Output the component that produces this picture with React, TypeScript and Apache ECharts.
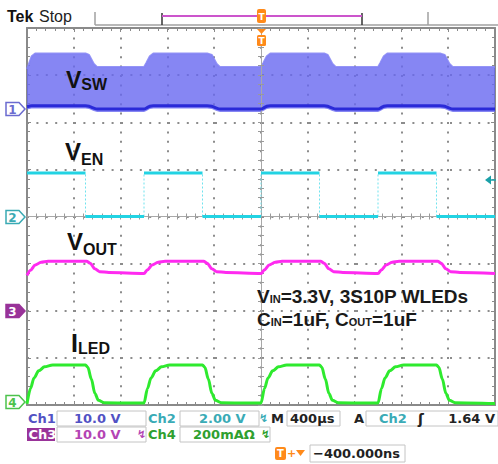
import React, { useEffect, useRef } from "react";
import * as echarts from "echarts";

const W = 498;
const H = 464;

// ---------- Time base (µs): 400 µs/div, 10 divisions, trigger at centre ----------
const timeMinUs = -2000;
const timeMaxUs = 2000;
const timePerDivUs = 400;
const divMin = -4;
const divMax = 4;

// ---------- Channel scales (units per div) and ground positions (div) ----------
const ch1Scale = 10; // V/div
const ch1Offset = 2.3;
const ch2Scale = 2; // V/div
const ch2Offset = 0;
const ch3Scale = 10; // V/div
const ch3Offset = -2;
const ch4Scale = 200; // mA/div
const ch4Offset = -4;

// ---------- Ch1: V_SW envelope (V) ----------
const vswTime = [
  -2000, -1960, -1930, -1500, -1470, -1430, -1400,
  -1000, -980, -950, -920, -460, -420, -380, -350,
  0, 20, 50, 80, 540, 570, 610, 640,
  1000, 1020, 1050, 1080, 1530, 1570, 1610, 1640,
  2000,
];
const vswUpper = [
  8.3, 11.0, 11.6, 11.6, 11.3, 9.4, 8.7,
  8.7, 9.6, 11.0, 11.6, 11.6, 11.3, 9.4, 8.7,
  8.7, 9.6, 11.0, 11.6, 11.6, 11.3, 9.4, 8.7,
  8.7, 9.6, 11.0, 11.6, 11.6, 11.3, 9.4, 8.7,
  8.7,
];
const vswBase = [
  0.3, 0.5, 0.5, 0.5, 0.4, 0.0, -0.2,
  -0.2, 0.0, 0.4, 0.5, 0.5, 0.4, 0.0, -0.2,
  -0.2, 0.0, 0.4, 0.5, 0.5, 0.4, 0.0, -0.2,
  -0.2, 0.0, 0.4, 0.5, 0.5, 0.4, 0.0, -0.2,
  -0.2,
];
const vswBandBelow = 0.6; // V of envelope below the dense bottom line

// ---------- Ch2: V_EN PWM (V) ----------
const enTimes = [-2000, -1500, -1000, -500, 0, 500, 1000, 1500, 2000];
const enStates = [1, 0, 1, 0, 1, 0, 1, 0];
const enHigh = 1.85;
const enLow = 0.0;

// ---------- Ch3: V_OUT (V) ----------
const voutTime = [
  -2000, -1970, -1930, -1880, -1820, -1490, -1460, -1420, -1380, -1300,
  -1000, -970, -930, -880, -820, -490, -460, -420, -380, -300,
  0, 30, 70, 120, 180, 510, 540, 580, 620, 700,
  1000, 1030, 1070, 1120, 1180, 1510, 1540, 1580, 1620, 1700,
  2000,
];
const voutValue = [
  7.5, 8.6, 9.7, 10.3, 10.5, 10.5, 10.1, 8.9, 8.3, 8.1,
  7.9, 8.7, 9.7, 10.3, 10.5, 10.5, 10.1, 8.9, 8.3, 8.1,
  7.9, 8.7, 9.7, 10.3, 10.5, 10.5, 10.1, 8.9, 8.3, 8.1,
  7.9, 8.7, 9.7, 10.3, 10.5, 10.5, 10.1, 8.9, 8.3, 8.1,
  7.9,
];

// ---------- Ch4: I_LED (mA) ----------
const iledTime = [
  -2000, -1970, -1940, -1900, -1850, -1780, -1500, -1480, -1450, -1420, -1390, -1340,
  -1000, -970, -940, -900, -850, -780, -500, -480, -450, -420, -390, -340,
  0, 30, 60, 100, 150, 220, 500, 520, 550, 580, 610, 660,
  1000, 1030, 1060, 1100, 1150, 1220, 1500, 1520, 1550, 1580, 1610, 1660,
  2000,
];
const iledValue = [
  5, 70, 115, 145, 162, 170, 170, 160, 110, 50, 20, 10,
  8, 70, 115, 145, 162, 170, 170, 160, 110, 50, 20, 10,
  8, 70, 115, 145, 162, 170, 170, 160, 110, 50, 20, 10,
  8, 70, 115, 145, 162, 170, 170, 160, 110, 50, 20, 10,
  6,
];

// ---------- Readout texts ----------
const ch1Label = "Ch1";
const ch1Text = "10.0 V";
const ch2Label = "Ch2";
const ch2Text = "2.00 V";
const ch3Label = "Ch3";
const ch3Text = "10.0 V";
const ch4Label = "Ch4";
const ch4Text = "200mAΩ";
const timeText = "400µs";
const trigSrc = "Ch2";
const trigLevel = "1.64 V";
const trigOffsetText = "−400.000ns";
const noteLine1 = ["V", "IN", "=3.3V, 3S10P WLEDs"];
const noteLine2 = ["C", "IN", "=1uF, C", "OUT", "=1uF"];

// ---------- helpers ----------
const toDiv = (v: number, scale: number, off: number) => v / scale + off;

const COL1 = "#5252c4";
const COL2 = "#3aabb6";
const COL3 = "#b444b4";
const COL4 = "#2fa02f";
const ORANGE = "#ff8a1a";

let measureCtx: CanvasRenderingContext2D | null = null;
function measure(text: string, font: string) {
  if (!measureCtx) measureCtx = document.createElement("canvas").getContext("2d");
  if (!measureCtx) return text.length * 8;
  measureCtx.font = font;
  return measureCtx.measureText(text).width;
}

function txt(x: number, y: number, text: string, font: string, fill: string, align = "left") {
  return {
    type: "text",
    x,
    y,
    z: 100,
    silent: true,
    style: {
      text,
      font,
      fill,
      align,
      verticalAlign: "middle",
      textAlign: align,
      textVerticalAlign: "middle",
    },
  };
}

// baseline-aligned run of text parts: [text, fontSize, weight, dy]
function run(x0: number, baseline: number, parts: [string, number, string, number][], fill: string, family: string) {
  let x = x0;
  const out: any[] = [];
  for (const [t, size, weight, dy] of parts) {
    const font = `${weight} ${size}px ${family}`;
    out.push(txt(x, baseline + dy - size * 0.35, t, font, fill));
    x += measure(t, font);
  }
  return out;
}

function box(x: number, y: number, w: number, h: number) {
  return {
    type: "rect",
    z: 90,
    silent: true,
    shape: { x, y, width: w, height: h },
    style: { fill: "#fff", stroke: "#c4c4c4", lineWidth: 1 },
  };
}

function line(x1: number, y1: number, x2: number, y2: number, stroke: string, lw = 1) {
  return { type: "line", z: 95, silent: true, shape: { x1, y1, x2, y2 }, style: { stroke, lineWidth: lw } };
}

function chMarker(yc: number, label: string, color: string, filled: boolean) {
  return [
    {
      type: "polygon",
      z: 100,
      silent: true,
      shape: { points: [[6, yc - 6.5], [19, yc - 6.5], [25, yc], [19, yc + 6.5], [6, yc + 6.5]] },
      style: { fill: filled ? color : "#fff", stroke: color, lineWidth: 1.5 },
    },
    txt(12.5, yc + 0.5, label, 'bold 12px "DejaVu Sans"', filled ? "#fff" : color, "center"),
  ];
}

export default function App() {
  const ref = useRef<HTMLDivElement>(null);

  useEffect(() => {
    document.body.style.margin = "0";
    if (!ref.current) return;
    const chart = echarts.init(ref.current, undefined, { renderer: "svg", width: W, height: H });

    const gridRect = { left: 27, top: 28, width: 468, height: 377 };

    const vswUpperDiv = vswTime.map((t, i) => [t, toDiv(vswUpper[i], ch1Scale, ch1Offset)]);
    const vswLowerDiv = vswTime.map((t, i) => [t, toDiv(vswBase[i] - vswBandBelow, ch1Scale, ch1Offset)]);
    const vswBaseDiv = vswTime.map((t, i) => [t, toDiv(vswBase[i], ch1Scale, ch1Offset)]);

    const enHighData: any[] = [];
    const enLowData: any[] = [];
    for (let i = 0; i < enStates.length; i++) {
      const target = enStates[i] ? enHighData : enLowData;
      const v = toDiv(enStates[i] ? enHigh : enLow, ch2Scale, ch2Offset);
      target.push([enTimes[i], v], [enTimes[i + 1], v], [enTimes[i + 1], "-"]);
    }
    const enEdgeData: any[] = [];
    for (let i = 1; i < enStates.length; i++) {
      enEdgeData.push(
        [enTimes[i], toDiv(enLow, ch2Scale, ch2Offset)],
        [enTimes[i], toDiv(enHigh, ch2Scale, ch2Offset)],
        [enTimes[i], "-"]
      );
    }
    const voutDiv = voutTime.map((t, i) => [t, toDiv(voutValue[i], ch3Scale, ch3Offset)]);
    const iledDiv = iledTime.map((t, i) => [t, toDiv(iledValue[i], ch4Scale, ch4Offset)]);

    const frameCol = "#8a8a8a";
    const frameAxis = (extra: any) => ({
      type: "value",
      axisLabel: { show: false },
      axisLine: { show: true, onZero: false, lineStyle: { color: frameCol, width: 2 } },
      axisTick: { show: true, inside: true, length: 4, lineStyle: { color: frameCol } },
      minorTick: { show: true, splitNumber: 5, length: 3, lineStyle: { color: frameCol } },
      splitLine: { show: false },
      ...extra,
    });
    const crossAxis = (extra: any, inside: boolean) => ({
      type: "value",
      z: 3,
      axisLabel: { show: false },
      axisLine: { show: true, onZero: true, lineStyle: { color: "#a8a8a8", width: 1 } },
      axisTick: { show: true, inside, length: 3, lineStyle: { color: "#9a9a9a" } },
      minorTick: { show: true, splitNumber: 5, length: 3, lineStyle: { color: "#9a9a9a" } },
      splitLine: { show: false },
      ...extra,
    });
    const dotted = { show: true, lineStyle: { color: "#8c8c8c", width: 2, type: [2, 7.4] } };

    const xr = { min: timeMinUs, max: timeMaxUs, interval: timePerDivUs };
    const yr = { min: divMin, max: divMax, interval: 1 };

    const RF = '"DejaVu Sans"';
    const F = `bold 13px ${RF}`;
    const SF = `bold 11px ${RF}`;
    const LF = '"Liberation Sans", Arial, sans-serif';

    const graphics: any[] = [
      // header
      txt(7, 16, "Tek", `bold 16px ${LF}`, "#111"),
      txt(39, 16, "Stop", `16px ${LF}`, "#222"),
      line(95, 25, 498, 25, "#a0a0a0", 1.5),
      line(95, 12, 95, 25, "#a0a0a0", 1.5),
      line(428, 12, 428, 25, "#a0a0a0", 1.5),
      line(162, 13, 162, 25, "#333", 1.5),
      line(362, 13, 362, 25, "#333", 1.5),
      line(162, 16, 362, 16, "#cc55cc", 2),
      {
        type: "rect", z: 100, silent: true,
        shape: { x: 257, y: 9, width: 9, height: 14, r: 2 },
        style: { fill: ORANGE },
      },
      txt(261.5, 16.5, "T", `bold 9px ${RF}`, "#fff", "center"),
      {
        type: "polygon", z: 100, silent: true,
        shape: { points: [[257, 29], [266, 29], [261.5, 34]] },
        style: { fill: ORANGE },
      },
      {
        type: "rect", z: 100, silent: true,
        shape: { x: 257, y: 35, width: 9, height: 11, r: 1.5 },
        style: { fill: ORANGE },
      },
      txt(261.5, 40.5, "T", `bold 9px ${RF}`, "#fff", "center"),
      // trigger level arrow (right)
      {
        type: "polygon", z: 100, silent: true,
        shape: { points: [[485, 180], [491, 175.5], [491, 184.5]] },
        style: { fill: "#1aa0a8" },
      },
      line(490, 180, 496, 180, "#1aa0a8", 1.5),
      // channel ground markers
      ...chMarker(109, "1", "#6b6bd0", false),
      ...chMarker(217, "2", "#3aaab4", false),
      ...chMarker(311, "3", "#993399", true),
      ...chMarker(402, "4", "#4cc24c", false),
      // trace labels
      ...run(66, 88, [["V", 23, "bold", 0], ["SW", 16, "bold", 2]], "#111", LF),
      ...run(65, 160, [["V", 24, "bold", 0], ["EN", 16, "bold", 5]], "#111", LF),
      ...run(67, 250, [["V", 24, "bold", 0], ["OUT", 16, "bold", 5]], "#111", LF),
      ...run(71, 352, [["I", 25, "bold", 0], ["LED", 16, "bold", 2]], "#111", LF),
      // annotation
      ...run(257, 303, [
        [noteLine1[0], 19, "bold", 0],
        [noteLine1[1], 11, "bold", 0],
        [noteLine1[2], 19, "bold", 0],
      ], "#1a1a1a", LF),
      ...run(257, 326, [
        [noteLine2[0], 19, "bold", 0],
        [noteLine2[1], 11, "bold", 0],
        [noteLine2[2], 19, "bold", 0],
        [noteLine2[3], 11, "bold", 0],
        [noteLine2[4], 19, "bold", 0],
      ], "#1a1a1a", LF),
      // readout row 1
      txt(28, 418.5, ch1Label, F, COL1),
      box(57, 411, 89, 15),
      txt(74, 418.5, ch1Text, F, COL1),
      txt(148, 418.5, ch2Label, F, COL2),
      box(180, 411, 79, 15),
      txt(199, 418.5, ch2Text, F, COL2),
      txt(259, 418.5, "↯", SF, COL2),
      txt(271, 418.5, "M", F, "#222"),
      box(287, 411, 53, 15),
      txt(290, 418.5, timeText, F, "#222"),
      txt(354, 418.5, "A", F, "#222"),
      box(366, 411, 132, 15),
      txt(379, 418.5, trigSrc, F, COL2),
      txt(418, 418.5, "ʃ", `bold 14px ${RF}`, "#222"),
      txt(495, 418.5, trigLevel, F, "#222", "right"),
      // readout row 2
      {
        type: "rect", z: 95, silent: true,
        shape: { x: 27, y: 428, width: 28, height: 13 },
        style: { fill: "#993399" },
      },
      txt(28.5, 434.5, ch3Label, F, "#fff"),
      box(57, 427, 89, 15),
      txt(74, 434.5, ch3Text, F, COL3),
      txt(137, 434.5, "↯", SF, COL3),
      txt(148, 434.5, ch4Label, F, COL4),
      box(180, 427, 90, 15),
      txt(193, 434.5, ch4Text, F, COL4),
      txt(261, 434.5, "↯", SF, COL4),
      // readout row 3
      {
        type: "rect", z: 100, silent: true,
        shape: { x: 275, y: 447, width: 11, height: 13, r: 2 },
        style: { fill: ORANGE },
      },
      txt(280.5, 453.5, "T", `bold 10px ${RF}`, "#fff", "center"),
      txt(287, 453, "+", `bold 11px ${RF}`, ORANGE),
      {
        type: "polygon", z: 100, silent: true,
        shape: { points: [[296, 450], [305, 450], [300.5, 456]] },
        style: { fill: ORANGE },
      },
      box(310, 445, 95, 17),
      txt(313, 453.5, trigOffsetText, F, "#222"),
    ];

    const lineSeries = (name: string, data: any[], color: string, width: number, z: number, extra: any = {}) => ({
      name,
      type: "line",
      xAxisIndex: 0,
      yAxisIndex: 0,
      z,
      data,
      symbol: "none",
      connectNulls: false,
      lineStyle: { color, width, ...(extra.lineStyle || {}) },
      silent: true,
      ...extra,
      ...(extra.lineStyle ? { lineStyle: { color, width, ...extra.lineStyle } } : {}),
    });

    const option: any = {
      animation: false,
      backgroundColor: "#ffffff",
      grid: [
        { ...gridRect, containLabel: false },
        { ...gridRect, containLabel: false },
        { ...gridRect, containLabel: false },
      ],
      xAxis: [
        frameAxis({ gridIndex: 0, position: "bottom", ...xr, splitLine: dotted }),
        frameAxis({ gridIndex: 0, position: "top", ...xr }),
        crossAxis({ gridIndex: 1, ...xr }, false),
        crossAxis({ gridIndex: 2, ...xr }, true),
      ],
      yAxis: [
        frameAxis({ gridIndex: 0, position: "left", ...yr, splitLine: dotted }),
        frameAxis({ gridIndex: 0, position: "right", ...yr }),
        crossAxis({ gridIndex: 1, ...yr }, false),
        crossAxis({ gridIndex: 2, ...yr }, true),
      ],
      graphic: graphics,
      series: [
        {
          name: "VSW band",
          type: "custom",
          xAxisIndex: 0,
          yAxisIndex: 0,
          z: 1,
          silent: true,
          data: [[0, 0]],
          renderItem: (_params: any, api: any) => {
            const top = vswUpperDiv.map((p) => api.coord(p));
            const bot = vswLowerDiv.map((p) => api.coord(p)).reverse();
            return {
              type: "polygon",
              shape: { points: top.concat(bot), smooth: 0 },
              style: { fill: "rgba(104,104,240,0.8)" },
            };
          },
        },
        lineSeries("VSW top", vswUpperDiv, "rgba(130,130,244,0.85)", 2, 2),
        lineSeries("VSW", vswBaseDiv, "#2a2ad8", 3, 3, { smooth: 0.2 }),
        lineSeries("VEN edges", enEdgeData, "#6fe3ee", 1, 6, { lineStyle: { type: [2, 2] } }),
        lineSeries("VEN high", enHighData, "#22d3e3", 3, 7),
        lineSeries("VEN low", enLowData, "#22d3e3", 3, 7),
        lineSeries("VOUT", voutDiv, "#ff2af0", 3, 7, { smooth: 0.3, smoothMonotone: "x" }),
        lineSeries("ILED", iledDiv, "#2eea2e", 3, 7, { smooth: 0.3, smoothMonotone: "x" }),
      ],
    };

    chart.setOption(option);
    return () => chart.dispose();
  }, []);

  return <div ref={ref} style={{ width: W, height: H, background: "#fff" }} />;
}
